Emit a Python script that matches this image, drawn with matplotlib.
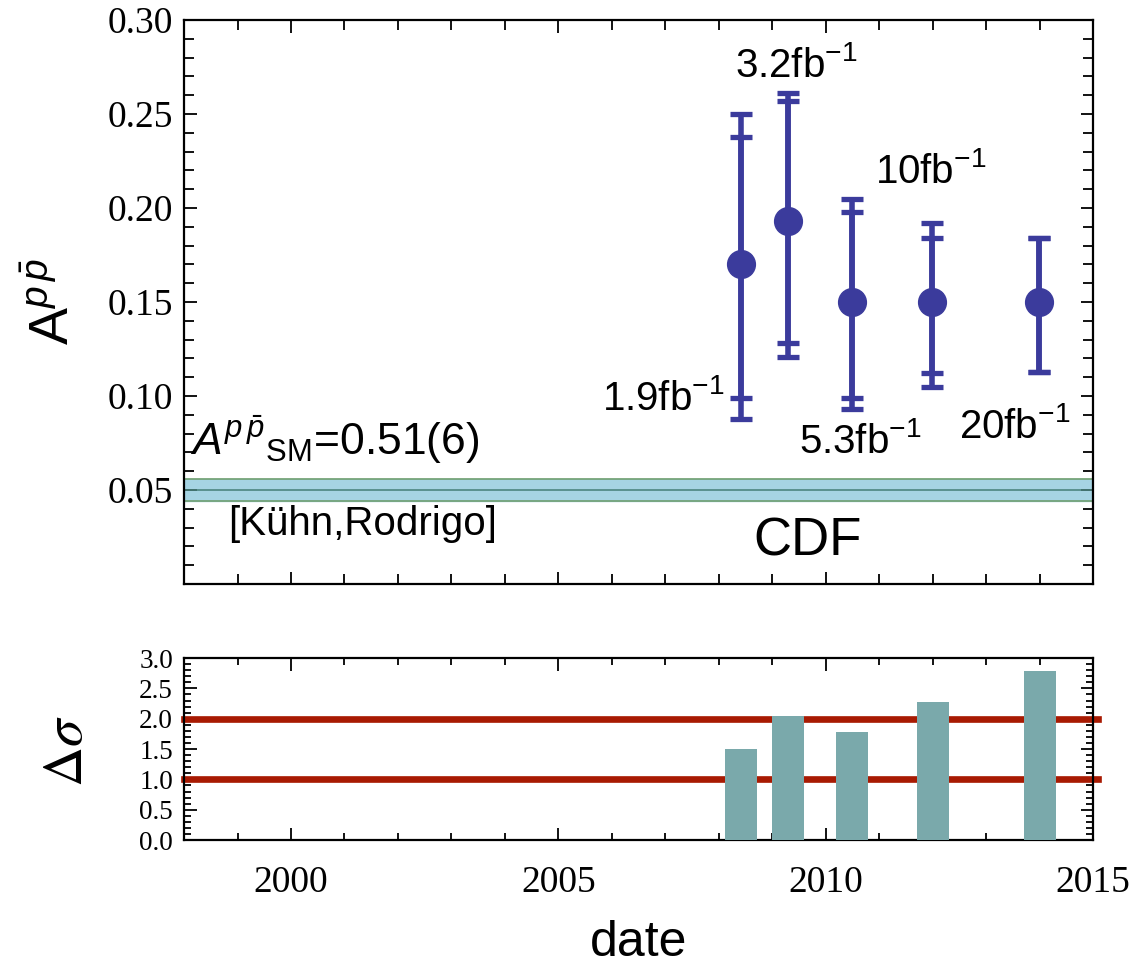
import numpy as np
import matplotlib
matplotlib.use('Agg')
import matplotlib.pyplot as plt
from matplotlib.ticker import MultipleLocator

plt.rcParams['font.family'] = ['Liberation Sans', 'DejaVu Sans']
plt.rcParams['mathtext.fontset'] = 'custom'
plt.rcParams['mathtext.rm'] = 'Liberation Sans'
plt.rcParams['mathtext.it'] = 'Liberation Sans:italic'
plt.rcParams['mathtext.sf'] = 'Liberation Sans'

meas_date = [2008.41, 2009.30, 2010.50, 2011.99, 2013.99]
meas_val = [0.170, 0.193, 0.150, 0.150, 0.150]
stat_hi = [0.238, 0.257, 0.198, 0.184, 0.184]
stat_lo = [0.099, 0.128, 0.099, 0.112, 0.113]
tot_hi = [0.250, 0.261, 0.205, 0.192, 0.184]
tot_lo = [0.088, 0.121, 0.093, 0.105, 0.113]
lumi_labels = [r'1.9fb$^{-1}$', r'3.2fb$^{-1}$', r'5.3fb$^{-1}$', r'10fb$^{-1}$', r'20fb$^{-1}$']
lumi_pos = [(2008.11, 0.0926), (2009.45, 0.2697), (2010.65, 0.0697), (2011.96, 0.2133), (2013.53, 0.0777)]

## SM prediction band
sm_val = 0.050
sm_err = 0.006

## deviation in sigma
dev_date = [2008.41, 2009.30, 2010.50, 2012.00, 2014.01]
dev_sigma = [1.50, 2.05, 1.78, 2.28, 2.78]
sigma_lines = [1.0, 2.0]

blue = '#3b3b9c'
serif = {'family': 'Liberation Serif'}

fig = plt.figure(figsize=(11.34, 9.68), dpi=100)
ax1 = fig.add_axes([0.1623, 0.3967, 0.8016, 0.5826])
ax2 = fig.add_axes([0.1623, 0.1322, 0.8016, 0.188])

# top panel
x_band = [1998, 2015]
ax1.fill_between(x_band, sm_val - sm_err, sm_val + sm_err, color='#a6d4e3', zorder=1)
ax1.plot(x_band, [sm_val + sm_err] * 2, color='#6f9f70', lw=1.2, zorder=2)
ax1.plot(x_band, [sm_val - sm_err] * 2, color='#6f9f70', lw=1.2, zorder=2)
ax1.plot(x_band, [sm_val] * 2, color='#4d8580', lw=1.2, zorder=2)

val = np.array(meas_val)
tot_err = [val - np.array(tot_lo), np.array(tot_hi) - val]
stat_err = [val - np.array(stat_lo), np.array(stat_hi) - val]
ax1.errorbar(meas_date, val, yerr=tot_err, fmt='none', ecolor=blue,
             elinewidth=4, capsize=8, capthick=3.8, zorder=3)
ax1.errorbar(meas_date, val, yerr=stat_err, fmt='o', color=blue, ecolor=blue,
             ms=20, elinewidth=4, capsize=8, capthick=3.8, zorder=4)

for lab, (lx, ly) in zip(lumi_labels, lumi_pos):
    ha = 'right' if lab.startswith('1.9') else 'center'
    ax1.text(lx, ly, lab, fontsize=29, ha=ha, va='baseline')

ax1.text(1998.11, 0.0686, r'$A^{p\,\bar{p}}{}_{\mathrm{SM}}$=0.51(6)', fontsize=32,
         ha='left', va='baseline')
ax1.text(2001.33, 0.0261, '[Kühn,Rodrigo]', fontsize=29, ha='center', va='baseline')
ax1.text(2009.66, 0.0149, 'CDF', fontsize=38, ha='center', va='baseline')

ax1.set_xlim(1998, 2015)
ax1.set_ylim(0, 0.30)
ax1.xaxis.set_major_locator(MultipleLocator(5))
ax1.xaxis.set_minor_locator(MultipleLocator(1))
ax1.yaxis.set_major_locator(MultipleLocator(0.05))
ax1.yaxis.set_minor_locator(MultipleLocator(0.01))
ax1.set_yticks(np.arange(0.05, 0.31, 0.05))
ax1.set_yticklabels(['%.2f' % v for v in np.arange(0.05, 0.31, 0.05)], fontdict=serif)
ax1.tick_params(axis='both', which='both', direction='in', top=True, right=True,
                labelbottom=False, labelsize=27, width=1.3, pad=8)
ax1.tick_params(which='major', length=9)
ax1.tick_params(which='minor', length=7)
ax1.set_ylabel(r'$\mathrm{A}^{p\,\bar{p}}$', fontsize=40)
ax1.yaxis.set_label_coords(-0.142, 0.5)
ax1.yaxis.label.set_va('center')

# bottom panel
ax2.bar(dev_date, dev_sigma, width=0.6, color='#7aa9ab', zorder=3)
for s in sigma_lines:
    ax2.plot([1998, 2015.1], [s, s], color='#a81a02', lw=4.8, zorder=2, clip_on=False)

ax2.set_xlim(1998, 2015)
ax2.set_ylim(0, 3.0)
ax2.xaxis.set_major_locator(MultipleLocator(5))
ax2.xaxis.set_minor_locator(MultipleLocator(1))
ax2.yaxis.set_major_locator(MultipleLocator(0.5))
ax2.yaxis.set_minor_locator(MultipleLocator(0.1))
ax2.set_xticks([2000, 2005, 2010, 2015])
ax2.set_xticklabels(['2000', '2005', '2010', '2015'], fontdict=serif)
ax2.set_yticks(np.arange(0, 3.01, 0.5))
ax2.set_yticklabels(['%.1f' % v for v in np.arange(0, 3.01, 0.5)], fontdict=serif)
ax2.tick_params(axis='both', which='both', direction='in', top=True, right=True,
                width=1.3)
ax2.tick_params(axis='x', pad=18, labelsize=27)
ax2.tick_params(axis='y', pad=8, labelsize=19.5)
ax2.tick_params(which='major', length=9)
ax2.tick_params(which='minor', length=5)
ax2.set_ylabel(r'$\Delta\sigma$', fontsize=40, math_fontfamily='stix')
ax2.yaxis.set_label_coords(-0.128, 0.49)
ax2.yaxis.label.set_va('center')
ax2.set_xlabel('date', fontsize=36)
ax2.xaxis.set_label_coords(0.4995, -0.566)
ax2.xaxis.label.set_va('center')

for ax in (ax1, ax2):
    for sp in ax.spines.values():
        sp.set_linewidth(1.6)

fig.savefig('out.png', dpi=100)
